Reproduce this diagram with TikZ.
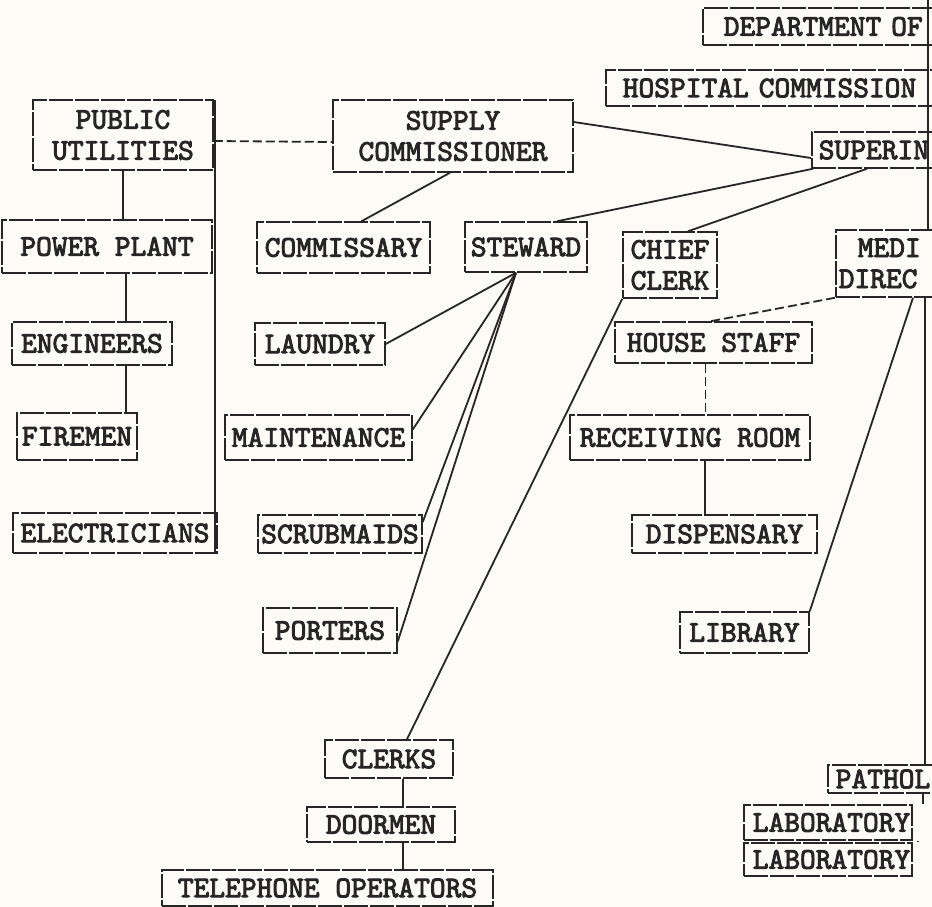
\documentclass[tikz,border=0pt]{standalone}
\usepackage{fontspec}
\newfontfamily\typewriter[Extension=.otf, FakeBold=3]{lmmono10-regular}
\definecolor{ink}{HTML}{262626}
\definecolor{paper}{HTML}{FCFBF6}
\begin{document}
\begin{tikzpicture}[x=1pt,y=-1pt,
  tbox/.style={draw=ink, line width=1.5pt, dash pattern=on 24pt off 2pt, rectangle,
    inner sep=0pt, text=ink, font=\typewriter\fontsize{30}{31}\selectfont, align=center},
  cbox/.style={tbox, align=left, anchor=west},
  link/.style={draw=ink, line width=1.8pt},
  dlink/.style={link, dash pattern=on 9pt off 4pt}]
\useasboundingbox (0,0) rectangle (932,907);
\clip (0,0) rectangle (932,907);
\fill[paper] (0,0) rectangle (932,907);

% boxes
\node[tbox, minimum width=180pt, minimum height=70pt] (pu) at (123,135) {PUBLIC\\UTILITIES};
\node[tbox, minimum width=240pt, minimum height=72pt] (sup) at (453,136) {SUPPLY\\COMMISSIONER};
\node[tbox, minimum width=210pt, minimum height=53pt] (pp) at (107,246.5) {POWER PLANT};
\node[tbox, minimum width=173pt, minimum height=51pt] (com) at (343.5,247.5) {COMMISSARY};
\node[tbox, minimum width=122pt, minimum height=50pt] (stw) at (526,247) {STEWARD};
\node[tbox, minimum width=94pt, minimum height=66pt] (chief) at (670,265) {CHIEF\\CLERK};
\node[tbox, minimum width=197pt, minimum height=41pt] (house) at (713.5,342.5) {HOUSE STAFF};
\node[tbox, minimum width=240pt, minimum height=45pt] (recv) at (690,437.5) {RECEIVING ROOM};
\node[tbox, minimum width=185pt, minimum height=38pt] (disp) at (724.5,534) {DISPENSARY};
\node[tbox, minimum width=129pt, minimum height=41pt] (lib) at (744.5,632.5) {LIBRARY};
\node[tbox, minimum width=130pt, minimum height=42pt] (laund) at (320,344) {LAUNDRY};
\node[tbox, minimum width=187pt, minimum height=45pt] (maint) at (318.5,437.5) {MAINTENANCE};
\node[tbox, minimum width=164pt, minimum height=38pt] (scrub) at (340,534) {SCRUBMAIDS};
\node[tbox, minimum width=134pt, minimum height=45pt] (port) at (330,630.5) {PORTERS};
\node[tbox, minimum width=160pt, minimum height=43pt] (eng) at (92,343.5) {ENGINEERS};
\node[tbox, minimum width=120pt, minimum height=47pt] (fire) at (77,436.5) {FIREMEN};
\node[tbox, minimum width=204pt, minimum height=40pt] (elec) at (115,533) {ELECTRICIANS};
\node[tbox, minimum width=128pt, minimum height=38pt] (clerks) at (389,759) {CLERKS};
\node[tbox, minimum width=148pt, minimum height=35pt] (door) at (381,824.5) {DOORMEN};
\node[tbox, minimum width=331pt, minimum height=36pt] (tel) at (327.5,888) {TELEPHONE OPERATORS};

% boxes cut off by the right edge
\node[cbox, text width=238pt, inner xsep=21pt, minimum height=37pt] (dept) at (702,26.5) {DEPARTMENT OF};
\node[cbox, text width=330pt, inner xsep=17pt, minimum height=36pt] (hosp) at (605,88) {HOSPITAL COMMISSION};
\node[cbox, text width=150pt, inner xsep=7pt, minimum height=36pt] (superin) at (811,150) {SUPERIN};
\node[cbox, text width=140pt, inner xsep=3pt, minimum height=67pt] (med) at (835,263.5) {\hspace*{19pt}MEDI\\DIREC};
\node[cbox, text width=140pt, inner xsep=8pt, minimum height=28pt] (pathol) at (827,779) {PATHOL};
\node[cbox, text width=150pt, inner xsep=9pt, minimum height=35pt] (lab1) at (743,822.5) {LABORATORY};
\node[cbox, text width=150pt, inner xsep=9pt, minimum height=33pt] (lab2) at (743,859.5) {LABORATORY};

% helper coordinates
\coordinate (vtop) at (215,100);
\coordinate (e1) at ([xshift=34pt]eng.north);
\coordinate (e2) at ([xshift=34pt]eng.south);
\coordinate (fan) at ([xshift=-10pt]stw.south);
\coordinate (h1) at ([xshift=-8pt]house.south);
\coordinate (r1) at ([xshift=15pt]recv.south);
\coordinate (c1) at ([xshift=14pt]clerks.south);
\coordinate (m1) at ([xshift=90pt]med.south west);
\coordinate (p1) at ([xshift=96pt]pathol.south west);
\coordinate (l1) at ([xshift=175pt]lab1.south west);
\coordinate (redge) at (928,0);

% connectors
\draw[dlink] ([yshift=-6pt]pu.east) -- ([yshift=-6pt]sup.west);
\draw[link] (pu.south) -- (pu.south |- pp.north);
\draw[link] (vtop) -- (vtop |- elec.south);
\draw[link] (e1) -- (e1 |- pp.south);
\draw[link] (e2) -- (e2 |- fire.north);
\draw[link] ([xshift=-3pt]sup.south) -- ([xshift=18pt]com.north);
\draw[link] ([yshift=14pt]sup.east) -- ([yshift=-8pt]superin.west);
\draw[link] ([xshift=2pt]superin.south west) -- ([xshift=31pt]stw.north);
\draw[link] ([xshift=56pt]superin.south west) -- ([xshift=18pt]chief.north);
\draw[link] (fan) -- (laund.east);
\draw[link] (fan) -- ([yshift=8pt]maint.east);
\draw[link] (fan) -- ([yshift=12pt]scrub.east);
\draw[link] (fan) -- ([yshift=-11pt]port.east);
\draw[link] (chief.south west) -- ([xshift=18pt]clerks.north);
\draw[dlink] (med.south west) -- ([xshift=-3pt]house.north);
\draw[link] ([xshift=78pt]med.south west) -- (lib.north east);
\draw[link] (m1) -- (m1 |- pathol.north);
\draw[dlink] (h1) -- (h1 |- recv.north);
\draw[link] (r1 |- recv.south) -- (r1 |- disp.north);
\draw[link] (c1) -- (c1 |- door.north);
\draw[link] (c1 |- door.south) -- (c1 |- tel.north);
\draw[link] (p1) -- (p1 |- lab1.north);
\draw[link] (l1) -- (l1 |- lab2.north);
\draw[link] (redge) -- (redge |- med.north);
\end{tikzpicture}
\end{document}
